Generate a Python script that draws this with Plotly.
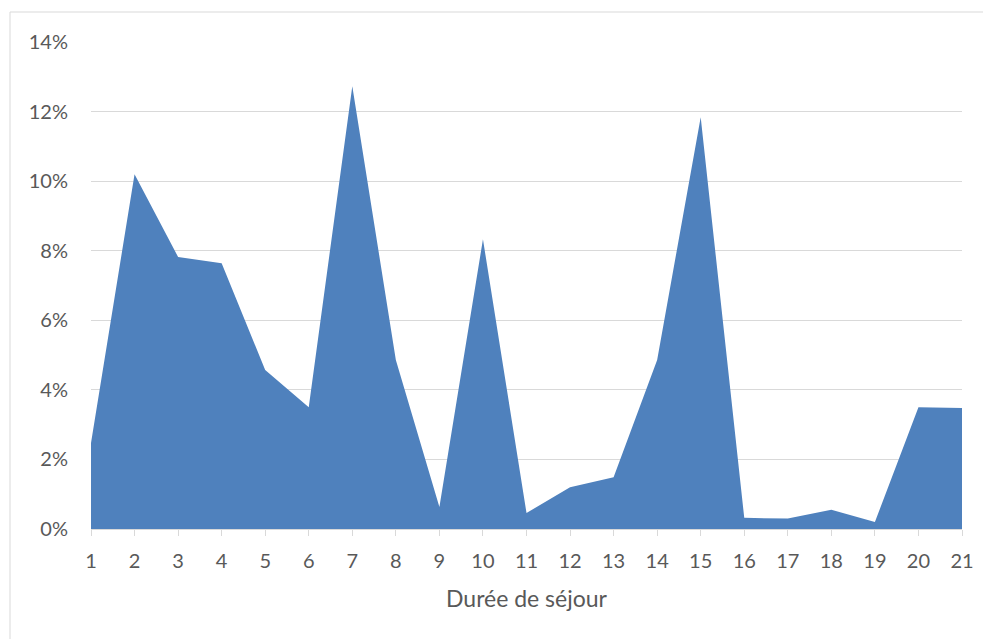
import plotly.graph_objects as go

durees = list(range(1, 22))
parts = [2.47, 10.2, 7.82, 7.64, 4.57, 3.5, 12.73, 4.86, 0.63, 8.33, 0.46,
         1.2, 1.49, 4.86, 11.84, 0.32, 0.3, 0.55, 0.2, 3.5, 3.48]
y_ticks = [0, 2, 4, 6, 8, 10, 12, 14]
y_tick_labels = [f"{v}%" for v in y_ticks]

FILL = "#4f81bd"
GRID = "#d9d9d9"
TXT = "#595959"
FONT = "Lato"

fig = go.Figure()
fig.add_trace(go.Scatter(
    x=durees, y=parts, mode="lines", fill="tozeroy",
    line=dict(width=0, color=FILL), fillcolor=FILL, hoverinfo="x+y",
))

OFF = 8  # page body margin
W, H = 991 - OFF, 639 - OFF
L, T = 91 - OFF, 42 - OFF
pw, ph = 871, 487
R = W - L - pw
B = H - T - ph

fig.update_layout(
    width=W, height=H,
    margin=dict(l=L, r=R, t=T, b=B),
    paper_bgcolor="white", plot_bgcolor="white",
    showlegend=False,
    font=dict(family=FONT, color=TXT, size=20),
    xaxis=dict(
        range=[1, 21], tickmode="array", tickvals=durees,
        ticktext=[str(d) for d in durees],
        showgrid=False, zeroline=False,
        showline=True, linecolor=GRID, linewidth=1,
        ticks="outside", ticklen=6, tickcolor=GRID, tickwidth=1,
        ticklabelstandoff=8,
        tickfont=dict(size=20, color=TXT, family=FONT),
        title=dict(text="Durée de séjour", font=dict(size=23, color=TXT, family=FONT), standoff=19),
    ),
    yaxis=dict(
        range=[0, 14], tickmode="array", tickvals=y_ticks, ticktext=y_tick_labels,
        showgrid=True, gridcolor=GRID, gridwidth=1, zeroline=False,
        showline=False, ticks="", ticklabelstandoff=22,
        tickfont=dict(size=20, color=TXT, family=FONT),
    ),
)

# chart border (extends off-canvas right/bottom)
fig.add_shape(type="rect", xref="paper", yref="paper",
              x0=(10 - OFF - L) / pw, x1=(W + 10 - L) / pw,
              y0=-(B + 10) / ph, y1=(T + ph - (12 - OFF)) / ph,
              line=dict(color=GRID, width=1), fillcolor="rgba(0,0,0,0)", layer="below")

fig.write_html("out.html")
